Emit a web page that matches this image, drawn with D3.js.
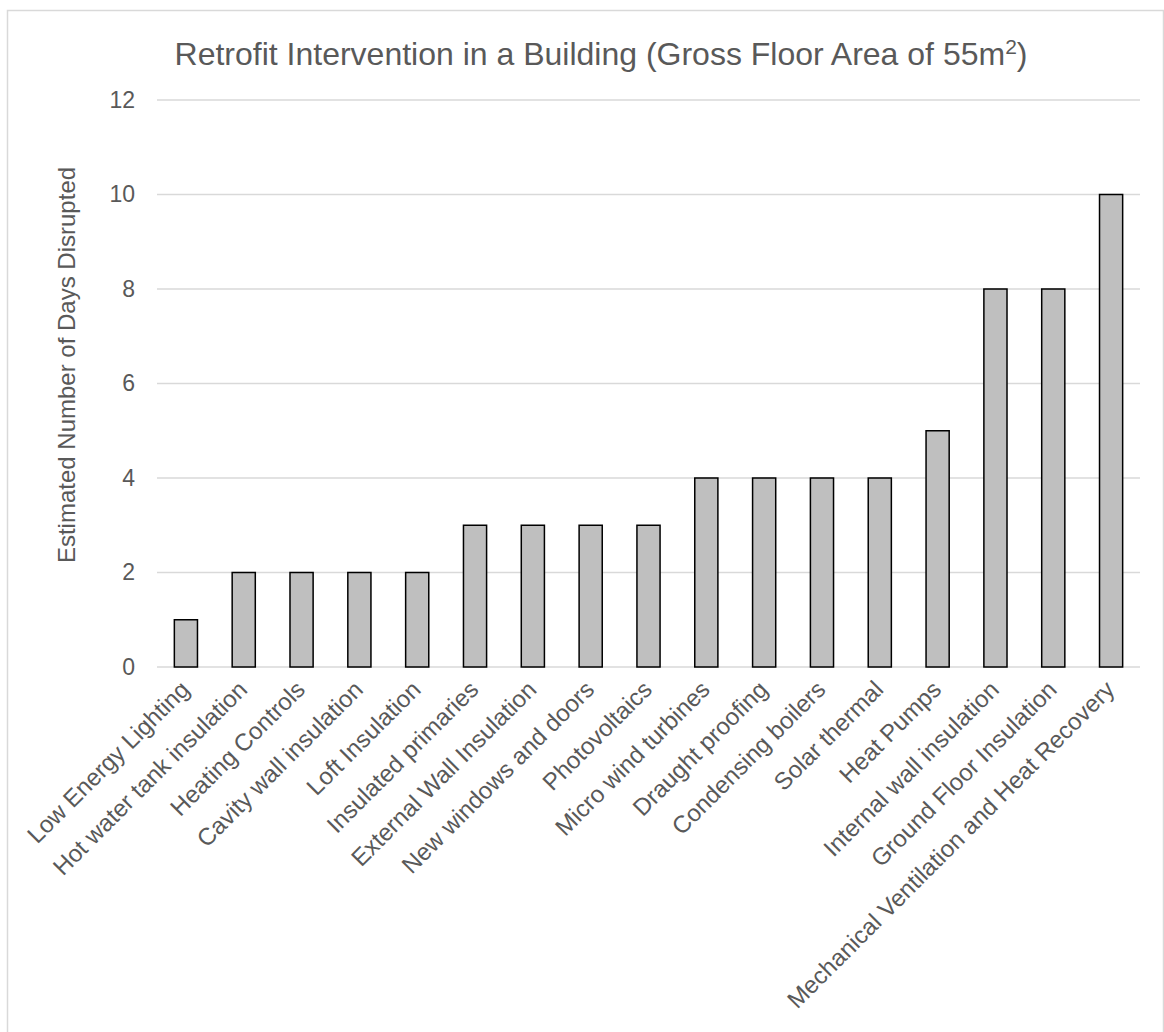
<!DOCTYPE html>
<html>
<head>
<meta charset="utf-8">
<script src="https://cdn.jsdelivr.net/npm/d3@7"></script>
<style>
  html, body { margin: 0; padding: 0; background: #fff; }
  svg { display: block; }
  text { font-family: "Liberation Sans", Arial, sans-serif; fill: #595959; }
</style>
</head>
<body>
<svg id="chart" width="1164" height="1032"></svg>
<script>
// Retrofit measures and estimated days of disruption
const categories = [
  "Low Energy Lighting",
  "Hot water tank insulation",
  "Heating Controls",
  "Cavity wall insulation",
  "Loft Insulation",
  "Insulated primaries",
  "External Wall Insulation",
  "New windows and doors",
  "Photovoltaics",
  "Micro wind turbines",
  "Draught proofing",
  "Condensing boilers",
  "Solar thermal",
  "Heat Pumps",
  "Internal wall insulation",
  "Ground Floor Insulation",
  "Mechanical Ventilation and Heat Recovery"
];
const daysDisrupted = [1, 2, 2, 2, 2, 3, 3, 3, 3, 4, 4, 4, 4, 5, 8, 8, 10];
const yTicks = [0, 2, 4, 6, 8, 10, 12];

const svg = d3.select("#chart");
const W = 1164, H = 1032;
const plot = { left: 157, right: 1140, top: 100, bottom: 667 };
const FONT = "'Liberation Sans', Arial, sans-serif";

// outer chart frame
svg.append("rect")
  .attr("x", 7.5).attr("y", 10.5)
  .attr("width", W - 8).attr("height", H)
  .attr("fill", "#fff").attr("stroke", "#d9d9d9").attr("stroke-width", 1.5);

const x = d3.scaleBand()
  .domain(categories)
  .range([plot.left, plot.right])
  .paddingInner(0.6).paddingOuter(0.3);

const y = d3.scaleLinear().domain([0, 12]).range([plot.bottom, plot.top]);

// horizontal gridlines
svg.append("g")
  .selectAll("line")
  .data(yTicks)
  .join("line")
  .attr("x1", plot.left).attr("x2", plot.right)
  .attr("y1", d => y(d)).attr("y2", d => y(d))
  .attr("stroke", "#d9d9d9").attr("stroke-width", 1.5);

// y tick labels
const yAxis = d3.axisLeft(y).tickValues(yTicks).tickSize(0).tickPadding(22);
const gy = svg.append("g").attr("transform", `translate(${plot.left},0)`).call(yAxis);
gy.select(".domain").remove();
gy.selectAll("text")
  .style("font-family", FONT)
  .style("font-size", "23px").attr("fill", "#595959");

// bars
svg.append("g")
  .selectAll("rect")
  .data(categories)
  .join("rect")
  .attr("x", d => x(d))
  .attr("y", (d, i) => y(daysDisrupted[i]))
  .attr("width", x.bandwidth())
  .attr("height", (d, i) => y(0) - y(daysDisrupted[i]))
  .attr("fill", "#bfbfbf")
  .attr("stroke", "#000").attr("stroke-width", 1.5);

// x category labels, rotated
const xAxis = d3.axisBottom(x).tickSize(0).tickPadding(0);
const gx = svg.append("g").attr("transform", `translate(0,${plot.bottom})`).call(xAxis);
gx.select(".domain").remove();
gx.selectAll("text")
  .style("font-family", FONT)
  .style("font-size", "24px").attr("fill", "#595959")
  .attr("text-anchor", "end")
  .attr("dy", null).attr("y", 0)
  .attr("transform", "translate(5,24) rotate(-45)");

// y axis title
svg.append("text")
  .attr("transform", `translate(75,365) rotate(-90)`)
  .attr("text-anchor", "middle")
  .style("font-size", "24px")
  .text("Estimated Number of Days Disrupted");

// chart title
const title = svg.append("text")
  .attr("x", 601).attr("y", 65)
  .attr("text-anchor", "middle")
  .style("font-size", "32px");
title.append("tspan").text("Retrofit Intervention in a Building (Gross Floor Area of 55m");
title.append("tspan").attr("dy", -11).style("font-size", "21px").text("2");
title.append("tspan").attr("dy", 11).text(")");
</script>
</body>
</html>
